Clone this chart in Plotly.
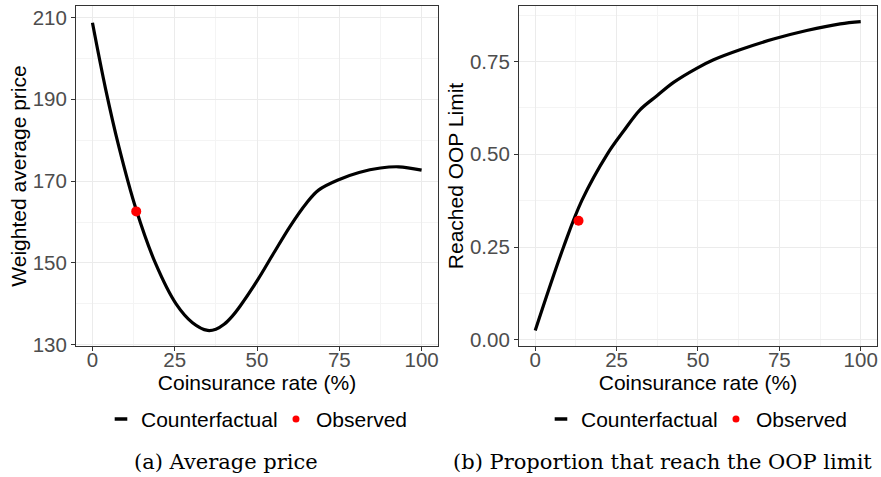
import plotly.graph_objects as go

# ---- data ----
coins_a = [0, 4, 8, 13.3, 19.1, 25.4, 30.4, 35, 37.5, 40, 42.5, 45, 50, 55, 60, 65, 68.7, 75, 81,
           87.5, 93, 100]
price = [208.7, 192.5, 178.5, 163.0, 150.0, 140.0, 135.4, 133.5, 133.8, 135.0, 137.0, 139.6,
         145.6, 152.3, 158.9, 164.6, 167.8, 170.4, 172.1, 173.2, 173.5, 172.7]

coins_b = [0, 8.7, 14.3, 22.1, 27.1, 32.2, 37.4, 42.5, 49.6, 54.8, 62.9, 73.2, 83.4, 93.7, 100]
reached = [0.025, 0.25, 0.375, 0.5, 0.562, 0.620, 0.658, 0.694, 0.732, 0.755, 0.782,
           0.811, 0.834, 0.852, 0.858]

obs_rate = [13.3]
obs_price = [162.6]
obs_reached = [0.321]

x_ticks = [0, 25, 50, 75, 100]
ya_ticks = [130, 150, 170, 190, 210]
yb_ticks = [0.0, 0.25, 0.5, 0.75]
yb_labels = ["0.00", "0.25", "0.50", "0.75"]

FONT = "Liberation Sans, Arial, sans-serif"
SERIF = "DejaVu Serif, serif"
GRID = "#EBEBEB"
MINOR = "#F4F4F4"
BORDER = "#333333"

fig = go.Figure()

fig.add_trace(go.Scatter(x=coins_a, y=price, mode="lines", line=dict(color="black", width=3.2, shape="spline"),
                         showlegend=False, xaxis="x", yaxis="y"))
fig.add_trace(go.Scatter(x=obs_rate, y=obs_price, mode="markers", marker=dict(color="red", size=10),
                         showlegend=False, xaxis="x", yaxis="y"))
fig.add_trace(go.Scatter(x=coins_b, y=reached, mode="lines", line=dict(color="black", width=3.2, shape="spline"),
                         showlegend=False, xaxis="x2", yaxis="y2"))
fig.add_trace(go.Scatter(x=obs_rate, y=obs_reached, mode="markers", marker=dict(color="red", size=10),
                         showlegend=False, xaxis="x2", yaxis="y2"))

# legend keys (ggplot-like short dash + dot)
for lg, xa, ya in [("legend", "x", "y"), ("legend2", "x2", "y2")]:
    fig.add_trace(go.Scatter(x=[None], y=[None], mode="markers", name="Counterfactual",
                             marker=dict(symbol="line-ew-open", size=9, color="black",
                                         line=dict(color="black", width=3.5)),
                             legendwidth=130, legend=lg, xaxis=xa, yaxis=ya))
    fig.add_trace(go.Scatter(x=[None], y=[None], mode="markers", name="Observed",
                             marker=dict(color="red", size=7), legend=lg, xaxis=xa, yaxis=ya))

def xaxis(domain, anchor):
    return dict(domain=domain, anchor=anchor, range=[-5, 105], tickvals=x_ticks,
                ticktext=[str(v) for v in x_ticks],
                showgrid=True, gridcolor=GRID, gridwidth=1,
                minor=dict(showgrid=True, gridcolor=MINOR, gridwidth=1, tick0=0, dtick=12.5),
                showline=True, mirror=True, linecolor=BORDER, linewidth=1,
                ticks="outside", ticklen=4, tickcolor=BORDER, zeroline=False,
                ticklabelstandoff=-9,
                tickfont=dict(family=FONT, size=20.5, color="#4D4D4D"),
                title=dict(text="Coinsurance rate (%)", font=dict(family=FONT, size=21, color="black"),
                           standoff=0))

def yaxis(domain, anchor, rng, tickvals, ticktext, minor_dtick, tick0, title):
    return dict(domain=domain, anchor=anchor, range=rng, tickvals=tickvals, ticktext=ticktext,
                showgrid=True, gridcolor=GRID, gridwidth=1,
                minor=dict(showgrid=True, gridcolor=MINOR, gridwidth=1, tick0=tick0, dtick=minor_dtick),
                showline=True, mirror=True, linecolor=BORDER, linewidth=1,
                ticks="outside", ticklen=4, tickcolor=BORDER, zeroline=False,
                tickfont=dict(family=FONT, size=20.5, color="#4D4D4D"),
                title=dict(text=title, font=dict(family=FONT, size=21, color="black"), standoff=0))

fig.update_layout(
    width=881, height=477,
    margin=dict(l=76, r=4, t=6, b=131),
    paper_bgcolor="white", plot_bgcolor="white",
    font=dict(family=FONT, color="black"),
    xaxis=xaxis([0, 0.452], "y"),
    yaxis=yaxis([0, 1], "x", [129.7, 212.8], ya_ticks, [str(v) for v in ya_ticks], 10, 130,
                "Weighted average price"),
    xaxis2=xaxis([0.553, 1.0], "y2"),
    yaxis2=yaxis([0, 1], "x2", [-0.017, 0.90], yb_ticks, yb_labels, 0.125, 0,
                 "Reached OOP Limit"),
    legend=dict(orientation="h", x=0.0312, xanchor="left", y=-0.2156, yanchor="middle",
                font=dict(family=FONT, size=21, color="black"), bgcolor="rgba(0,0,0,0)",
                itemwidth=30, tracegroupgap=0),
    legend2=dict(orientation="h", x=0.5805, xanchor="left", y=-0.2156, yanchor="middle",
                 font=dict(family=FONT, size=21, color="black"), bgcolor="rgba(0,0,0,0)",
                 itemwidth=30, tracegroupgap=0),
    annotations=[
        dict(text="(a) Average price", x=0.1873, y=-0.342, xref="paper", yref="paper",
             xanchor="center", yanchor="middle", showarrow=False,
             font=dict(family=SERIF, size=21, color="black")),
        dict(text="(b) Proportion that reach the OOP limit", x=0.7316, y=-0.342, xref="paper",
             yref="paper", xanchor="center", yanchor="middle", showarrow=False,
             font=dict(family=SERIF, size=21, color="black")),
    ],
)

fig.write_html("out.html")
